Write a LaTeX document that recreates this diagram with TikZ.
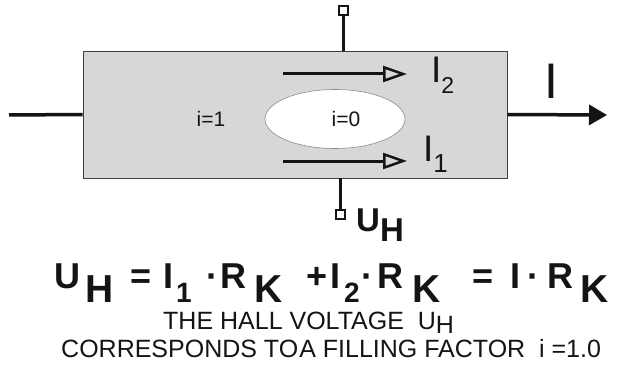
\documentclass[tikz,border=0pt]{standalone}
\usepackage{fontspec}
\setmainfont{Liberation Sans}
\usetikzlibrary{arrows.meta,shapes.geometric,positioning}

\definecolor{barfill}{HTML}{D7D7D7}
\definecolor{ink}{HTML}{141414}

\tikzset{
  wire/.style={line width=3.5pt, draw=ink},
  flow/.style={line width=3pt, draw=ink, -{Triangle[open, length=24pt, width=16pt, line width=2.5pt]}},
  probe/.style={rectangle, draw=ink, line width=2pt, fill=white, minimum size=9pt, inner sep=0pt},
  lbl/.style={inner sep=0pt, text=ink, anchor=base west},
}

\begin{document}
\begin{tikzpicture}[x=1pt,y=-1pt]
\useasboundingbox (0,0) rectangle (617,366);

\node[rectangle, draw=black!75, line width=0.8pt, fill=barfill, minimum width=424pt, minimum height=127pt, inner sep=0pt] (bar) at (295,114.5) {};
\node[ellipse, draw=black!45, line width=0.6pt, fill=white, minimum width=140pt, minimum height=59pt, inner sep=0pt] (island) at (335,119) {};

\node[font=\fontsize{21}{21}\selectfont, text=ink, inner sep=0pt] (fill1) at (211,119) {i=1};
\node[font=\fontsize{21}{21}\selectfont, text=ink, inner sep=0pt] (fill0) at (346,119) {i=0};

% current leads
\coordinate (lin) at (9,115);
\coordinate (lout) at (607,115);
\draw[wire] (lin) -- (bar.west);
\draw[wire, -{Triangle[length=18pt, width=20pt]}] (bar.east) -- (lout);
\node[lbl, font=\fontsize{50}{50}\selectfont] (itot) at (544,99) {I};

% edge channels
\coordinate (c2a) at (283,74);
\coordinate (c2b) at (407,74);
\coordinate (c1a) at (283,161);
\coordinate (c1b) at (407,161);
\draw[flow] (c2a) -- (c2b);
\draw[flow] (c1a) -- (c1b);
\node[lbl, font=\fontsize{37}{37}\selectfont] (itwo) at (431,83) {I\raisebox{-11pt}{\fontsize{23}{23}\selectfont 2}};
\node[lbl, font=\fontsize{37}{37}\selectfont] (ione) at (423,161) {I\raisebox{-11pt}{\fontsize{26}{26}\selectfont 1}};

% Hall probes
\node[probe] (ptop) at (343,11) {};
\node[probe] (pbot) at (340,214) {};
\draw[wire, line width=3pt] (ptop.south) -- (ptop |- bar.north);
\draw[wire, line width=3pt] (pbot.north) -- (pbot |- bar.south);
\node[lbl, font=\fontsize{33}{33}\selectfont\bfseries] (uhall) at (356,231) {U\raisebox{-10pt}{H}};

% equation
\foreach \px/\py/\t/\sz [count=\k] in {54/288/U/36, 85/302/H/39, 130/288/=/36, 163/288/I/36, 176/302/1/28,
  206/288/·/36, 220/288/R/36, 254/302/K/39, 306/288/+/36, 330/288/I/36, 344/302/2/28,
  361/288/·/36, 377/288/R/36, 412/302/K/39, 472/288/=/36, 510/288/I/36, 527/288/·/36,
  547/288/R/36, 580/302/K/39}
  \node[lbl, font=\fontsize{\sz}{\sz}\selectfont\bfseries] (eq\k) at (\px,\py) {\t};

\node[lbl, font=\fontsize{25}{25}\selectfont] (note1) at (163,329) {THE HALL VOLTAGE\ \ U\raisebox{-4pt}{H}};
\node[lbl, font=\fontsize{25}{25}\selectfont] (note2) at (61,357) {CORRESPONDS TO\kern1pt A FILLING FACTOR\ \ i =1.0};

\end{tikzpicture}
\end{document}
